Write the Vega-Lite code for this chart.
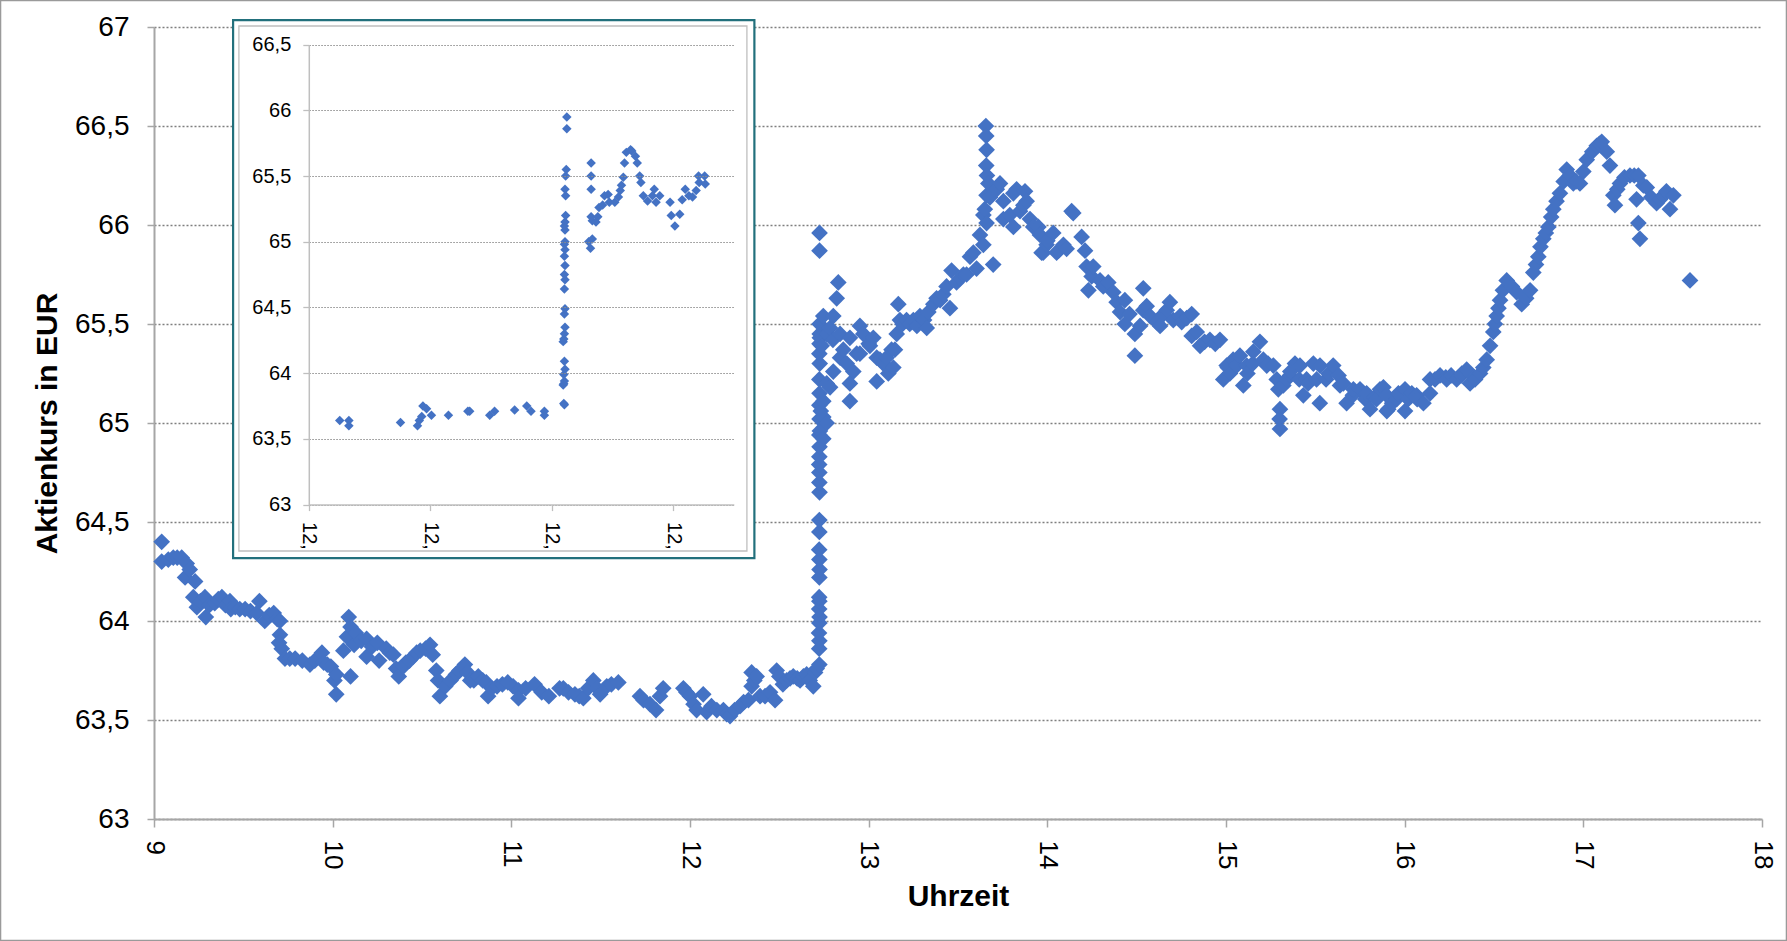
{
  "$schema": "https://vega.github.io/schema/vega-lite/v6.json",
  "width": 1608,
  "height": 792,
  "autosize": {"type": "none"},
  "padding": {"left": 154, "top": 27, "right": 25, "bottom": 122},
  "background": "white",
  "config": {"view": {"stroke": null}, "font": "Liberation Sans"},
  "datasets": {
    "main": [
      {"t":9.043,"p":64.40},{"t":9.043,"p":64.30},{"t":9.08,"p":64.31},{"t":9.108,"p":64.32},{"t":9.13,"p":64.32},{"t":9.155,"p":64.32},{"t":9.174,"p":64.22},{"t":9.183,"p":64.29},{"t":9.2,"p":64.26},{"t":9.22,"p":64.12},{"t":9.23,"p":64.20},{"t":9.24,"p":64.07},{"t":9.26,"p":64.10},{"t":9.285,"p":64.12},{"t":9.29,"p":64.02},{"t":9.31,"p":64.08},{"t":9.34,"p":64.09},{"t":9.36,"p":64.11},{"t":9.38,"p":64.12},{"t":9.40,"p":64.08},{"t":9.425,"p":64.10},{"t":9.43,"p":64.06},{"t":9.455,"p":64.07},{"t":9.48,"p":64.06},{"t":9.51,"p":64.06},{"t":9.54,"p":64.05},{"t":9.575,"p":64.04},{"t":9.59,"p":64.10},{"t":9.62,"p":64.00},{"t":9.645,"p":64.03},{"t":9.67,"p":64.04},{"t":9.69,"p":64.01},{"t":9.705,"p":64.00},{"t":9.705,"p":63.93},{"t":9.70,"p":63.89},{"t":9.715,"p":63.86},{"t":9.733,"p":63.81},{"t":9.76,"p":63.81},{"t":9.79,"p":63.81},{"t":9.83,"p":63.80},{"t":9.873,"p":63.78},{"t":9.90,"p":63.80},{"t":9.94,"p":63.84},{"t":9.95,"p":63.79},{"t":9.97,"p":63.78},{"t":9.99,"p":63.77},{"t":10.01,"p":63.70},{"t":10.02,"p":63.73},{"t":10.02,"p":63.63},{"t":10.06,"p":63.85},{"t":10.08,"p":63.92},{"t":10.09,"p":64.02},{"t":10.1,"p":63.97},{"t":10.1,"p":63.72},{"t":10.12,"p":63.88},{"t":10.13,"p":63.94},{"t":10.16,"p":63.90},{"t":10.19,"p":63.91},{"t":10.19,"p":63.82},{"t":10.22,"p":63.87},{"t":10.25,"p":63.89},{"t":10.26,"p":63.80},{"t":10.30,"p":63.86},{"t":10.32,"p":63.84},{"t":10.34,"p":63.83},{"t":10.355,"p":63.76},{"t":10.37,"p":63.72},{"t":10.395,"p":63.77},{"t":10.41,"p":63.79},{"t":10.43,"p":63.80},{"t":10.45,"p":63.82},{"t":10.47,"p":63.84},{"t":10.49,"p":63.85},{"t":10.52,"p":63.86},{"t":10.545,"p":63.88},{"t":10.56,"p":63.83},{"t":10.58,"p":63.75},{"t":10.59,"p":63.70},{"t":10.6,"p":63.62},{"t":10.63,"p":63.67},{"t":10.66,"p":63.70},{"t":10.69,"p":63.73},{"t":10.71,"p":63.75},{"t":10.74,"p":63.78},{"t":10.755,"p":63.74},{"t":10.77,"p":63.70},{"t":10.79,"p":63.70},{"t":10.815,"p":63.72},{"t":10.84,"p":63.70},{"t":10.86,"p":63.69},{"t":10.87,"p":63.62},{"t":10.89,"p":63.66},{"t":10.92,"p":63.67},{"t":10.95,"p":63.68},{"t":10.98,"p":63.69},{"t":11.01,"p":63.67},{"t":11.04,"p":63.65},{"t":11.04,"p":63.61},{"t":11.08,"p":63.66},{"t":11.13,"p":63.68},{"t":11.17,"p":63.64},{"t":11.21,"p":63.62},{"t":11.27,"p":63.66},{"t":11.291,"p":63.66},{"t":11.32,"p":63.64},{"t":11.356,"p":63.63},{"t":11.38,"p":63.62},{"t":11.403,"p":63.61},{"t":11.43,"p":63.66},{"t":11.459,"p":63.70},{"t":11.48,"p":63.66},{"t":11.497,"p":63.63},{"t":11.534,"p":63.67},{"t":11.56,"p":63.68},{"t":11.599,"p":63.69},{"t":11.72,"p":63.62},{"t":11.74,"p":63.60},{"t":11.776,"p":63.58},{"t":11.81,"p":63.55},{"t":11.832,"p":63.62},{"t":11.85,"p":63.66},{"t":11.963,"p":63.66},{"t":11.98,"p":63.64},{"t":12.0,"p":63.62},{"t":12.02,"p":63.58},{"t":12.037,"p":63.55},{"t":12.074,"p":63.63},{"t":12.093,"p":63.54},{"t":12.12,"p":63.57},{"t":12.15,"p":63.55},{"t":12.187,"p":63.55},{"t":12.205,"p":63.53},{"t":12.224,"p":63.52},{"t":12.25,"p":63.55},{"t":12.28,"p":63.57},{"t":12.30,"p":63.59},{"t":12.327,"p":63.60},{"t":12.345,"p":63.67},{"t":12.345,"p":63.74},{"t":12.36,"p":63.70},{"t":12.373,"p":63.72},{"t":12.392,"p":63.62},{"t":12.42,"p":63.62},{"t":12.448,"p":63.64},{"t":12.476,"p":63.60},{"t":12.485,"p":63.75},{"t":12.50,"p":63.72},{"t":12.52,"p":63.68},{"t":12.541,"p":63.70},{"t":12.56,"p":63.71},{"t":12.578,"p":63.72},{"t":12.60,"p":63.71},{"t":12.616,"p":63.70},{"t":12.635,"p":63.72},{"t":12.653,"p":63.73},{"t":12.67,"p":63.70},{"t":12.69,"p":63.67},{"t":12.70,"p":63.74},{"t":12.709,"p":63.76},{"t":12.724,"p":63.78},
      {"t":12.723,"p":63.86},{"t":12.724,"p":63.90},{"t":12.722,"p":63.94},{"t":12.724,"p":63.99},{"t":12.725,"p":64.02},{"t":12.723,"p":64.06},{"t":12.724,"p":64.10},{"t":12.723,"p":64.12},{"t":12.724,"p":64.22},{"t":12.725,"p":64.26},{"t":12.724,"p":64.31},{"t":12.723,"p":64.36},{"t":12.724,"p":64.45},{"t":12.724,"p":64.51},{"t":12.725,"p":64.65},{"t":12.724,"p":64.70},{"t":12.724,"p":64.75},{"t":12.723,"p":64.79},{"t":12.724,"p":64.83},{"t":12.725,"p":64.88},{"t":12.724,"p":64.94},{"t":12.725,"p":65.02},{"t":12.724,"p":65.09},{"t":12.725,"p":65.15},{"t":12.724,"p":65.22},{"t":12.726,"p":65.30},{"t":12.724,"p":65.35},{"t":12.725,"p":65.40},{"t":12.726,"p":65.45},{"t":12.725,"p":65.50},{"t":12.725,"p":65.87},{"t":12.725,"p":65.96},
      {"t":12.727,"p":65.43},{"t":12.727,"p":64.96},{"t":12.732,"p":65.06},{"t":12.737,"p":65.39},{"t":12.746,"p":65.54},{"t":12.746,"p":65.11},{"t":12.746,"p":65.03},{"t":12.746,"p":64.92},{"t":12.765,"p":65.45},{"t":12.765,"p":65.20},{"t":12.765,"p":65.00},{"t":12.784,"p":65.48},{"t":12.784,"p":65.18},{"t":12.80,"p":65.42},{"t":12.802,"p":65.54},{"t":12.802,"p":65.26},{"t":12.821,"p":65.63},{"t":12.83,"p":65.71},{"t":12.84,"p":65.45},{"t":12.84,"p":65.33},{"t":12.858,"p":65.37},{"t":12.877,"p":65.30},{"t":12.895,"p":65.43},{"t":12.895,"p":65.20},{"t":12.895,"p":65.11},{"t":12.914,"p":65.26},{"t":12.933,"p":65.35},{"t":12.951,"p":65.49},{"t":12.951,"p":65.35},{"t":12.97,"p":65.45},{"t":13.0,"p":65.40},{"t":13.007,"p":65.39},{"t":13.026,"p":65.43},{"t":13.045,"p":65.33},{"t":13.045,"p":65.21},{"t":13.063,"p":65.32},{"t":13.082,"p":65.30},{"t":13.1,"p":65.33},{"t":13.11,"p":65.25},{"t":13.128,"p":65.37},{"t":13.138,"p":65.28},{"t":13.147,"p":65.37},{"t":13.157,"p":65.45},{"t":13.166,"p":65.60},{"t":13.175,"p":65.52},{"t":13.19,"p":65.50},{"t":13.212,"p":65.52},{"t":13.23,"p":65.50},{"t":13.25,"p":65.52},{"t":13.27,"p":65.49},{"t":13.287,"p":65.54},{"t":13.31,"p":65.52},{"t":13.325,"p":65.48},{"t":13.334,"p":65.56},{"t":13.362,"p":65.60},{"t":13.38,"p":65.63},{"t":13.40,"p":65.62},{"t":13.418,"p":65.65},{"t":13.436,"p":65.69},{"t":13.455,"p":65.58},{"t":13.464,"p":65.77},{"t":13.492,"p":65.71},{"t":13.511,"p":65.73},{"t":13.53,"p":65.75},{"t":13.548,"p":65.75},{"t":13.567,"p":65.84},{"t":13.586,"p":65.86},{"t":13.604,"p":65.78},{"t":13.623,"p":65.95},{"t":13.642,"p":65.90},{"t":13.642,"p":66.05},{"t":13.65,"p":66.08},{"t":13.66,"p":66.01},{"t":13.656,"p":66.50},{"t":13.658,"p":66.45},{"t":13.66,"p":66.38},{"t":13.658,"p":66.30},{"t":13.662,"p":66.25},{"t":13.66,"p":66.15},{"t":13.67,"p":66.21},{"t":13.679,"p":66.14},{"t":13.697,"p":65.80},{"t":13.717,"p":66.18},{"t":13.735,"p":66.21},{"t":13.754,"p":66.12},{"t":13.754,"p":66.03},{"t":13.79,"p":66.05},{"t":13.81,"p":66.16},{"t":13.81,"p":65.99},{"t":13.828,"p":66.18},{"t":13.847,"p":66.07},{"t":13.866,"p":66.10},{"t":13.875,"p":66.17},{"t":13.884,"p":66.12},{"t":13.903,"p":66.03},{"t":13.921,"p":65.99},{"t":13.95,"p":65.99},{"t":13.959,"p":65.95},{"t":13.968,"p":65.86},{"t":13.977,"p":65.86},{"t":13.996,"p":65.90},{"t":14.0,"p":65.92},{"t":14.033,"p":65.96},{"t":14.052,"p":65.86},{"t":14.062,"p":65.87},{"t":14.09,"p":65.90},{"t":14.108,"p":65.88},{"t":14.136,"p":66.07},{"t":14.145,"p":66.06},{"t":14.192,"p":65.94},{"t":14.211,"p":65.87},{"t":14.22,"p":65.79},{"t":14.23,"p":65.67},{"t":14.248,"p":65.74},{"t":14.257,"p":65.79},{"t":14.295,"p":65.72},{"t":14.313,"p":65.69},{"t":14.341,"p":65.71},{"t":14.369,"p":65.66},{"t":14.388,"p":65.61},{"t":14.407,"p":65.56},{"t":14.434,"p":65.62},{"t":14.434,"p":65.50},{"t":14.46,"p":65.55},{"t":14.49,"p":65.45},{"t":14.49,"p":65.34},{"t":14.519,"p":65.49},{"t":14.537,"p":65.68},{"t":14.537,"p":65.57},{"t":14.556,"p":65.59},{"t":14.575,"p":65.54},{"t":14.612,"p":65.51},{"t":14.631,"p":65.49},{"t":14.65,"p":65.55},{"t":14.668,"p":65.57},{"t":14.686,"p":65.61},{"t":14.705,"p":65.52},{"t":14.743,"p":65.54},{"t":14.752,"p":65.51},{"t":14.78,"p":65.53},{"t":14.808,"p":65.55},{"t":14.808,"p":65.44},{"t":14.836,"p":65.46},{"t":14.855,"p":65.39},{"t":14.88,"p":65.41},{"t":14.91,"p":65.42},{"t":14.94,"p":65.40},{"t":14.966,"p":65.42},{"t":14.985,"p":65.22},{"t":15.004,"p":65.29},{"t":15.01,"p":65.28},{"t":15.022,"p":65.25},{"t":15.04,"p":65.32},{"t":15.06,"p":65.29},{"t":15.078,"p":65.34},{"t":15.097,"p":65.19},{"t":15.116,"p":65.29},{"t":15.12,"p":65.25},{"t":15.15,"p":65.30},{"t":15.153,"p":65.36},{"t":15.19,"p":65.41},{"t":15.209,"p":65.32},{"t":15.228,"p":65.29},{"t":15.235,"p":65.30},{"t":15.265,"p":65.29},{"t":15.284,"p":65.22},{"t":15.293,"p":65.17},{"t":15.302,"p":65.07},{"t":15.302,"p":64.97},{"t":15.30,"p":65.02},{"t":15.321,"p":65.19},{"t":15.34,"p":65.22},{"t":15.358,"p":65.24},{"t":15.36,"p":65.26},{"t":15.386,"p":65.30},{"t":15.41,"p":65.22},{"t":15.414,"p":65.29},{"t":15.433,"p":65.14},{"t":15.451,"p":65.22},{"t":15.46,"p":65.20},{"t":15.489,"p":65.30},{"t":15.507,"p":65.22},{"t":15.525,"p":65.10},{"t":15.526,"p":65.29},{"t":15.56,"p":65.22},{"t":15.573,"p":65.25},{"t":15.6,"p":65.29},{"t":15.63,"p":65.24},{"t":15.638,"p":65.19},{"t":15.657,"p":65.20},{"t":15.675,"p":65.10},{"t":15.71,"p":65.14},{"t":15.713,"p":65.17},{"t":15.75,"p":65.17},{"t":15.78,"p":65.12},{"t":15.787,"p":65.15},{"t":15.806,"p":65.07},{"t":15.83,"p":65.13},{"t":15.843,"p":65.12},{"t":15.862,"p":65.17},{"t":15.881,"p":65.18},{"t":15.899,"p":65.14},{"t":15.9,"p":65.06},{"t":15.908,"p":65.07},{"t":15.93,"p":65.10},{"t":15.955,"p":65.12},{"t":15.965,"p":65.15},{"t":16.002,"p":65.06},{"t":16.002,"p":65.17},{"t":16.02,"p":65.12},{"t":16.04,"p":65.15},{"t":16.067,"p":65.14},{"t":16.07,"p":65.12},{"t":16.105,"p":65.10},{"t":16.142,"p":65.15},{"t":16.142,"p":65.22},{"t":16.17,"p":65.22},{"t":16.198,"p":65.24},{"t":16.23,"p":65.23},{"t":16.235,"p":65.22},{"t":16.26,"p":65.24},{"t":16.291,"p":65.22},{"t":16.319,"p":65.24},{"t":16.32,"p":65.25},{"t":16.347,"p":65.27},{"t":16.366,"p":65.20},{"t":16.39,"p":65.23},{"t":16.394,"p":65.22},{"t":16.422,"p":65.25},{"t":16.44,"p":65.28},{"t":16.459,"p":65.32},{"t":16.478,"p":65.39},{"t":16.496,"p":65.46},{"t":16.505,"p":65.50},{"t":16.515,"p":65.54},{"t":16.525,"p":65.58},{"t":16.534,"p":65.62},{"t":16.55,"p":65.67},{"t":16.571,"p":65.72},{"t":16.60,"p":65.69},{"t":16.627,"p":65.66},{"t":16.655,"p":65.60},{"t":16.68,"p":65.63},{"t":16.702,"p":65.67},{"t":16.72,"p":65.76},{"t":16.735,"p":65.80},{"t":16.748,"p":65.84},{"t":16.76,"p":65.89},{"t":16.776,"p":65.93},{"t":16.79,"p":65.96},{"t":16.804,"p":65.99},{"t":16.82,"p":66.04},{"t":16.832,"p":66.08},{"t":16.85,"p":66.12},{"t":16.869,"p":66.16},{"t":16.89,"p":66.22},{"t":16.907,"p":66.28},{"t":16.925,"p":66.25},{"t":16.944,"p":66.21},{"t":16.96,"p":66.22},{"t":16.981,"p":66.21},{"t":17.0,"p":66.27},{"t":17.019,"p":66.33},{"t":17.05,"p":66.37},{"t":17.075,"p":66.40},{"t":17.09,"p":66.41},{"t":17.103,"p":66.42},{"t":17.131,"p":66.37},{"t":17.149,"p":66.30},{"t":17.168,"p":66.15},{"t":17.177,"p":66.10},{"t":17.19,"p":66.18},{"t":17.205,"p":66.21},{"t":17.23,"p":66.24},{"t":17.261,"p":66.25},{"t":17.285,"p":66.25},{"t":17.298,"p":66.13},{"t":17.308,"p":66.25},{"t":17.308,"p":66.01},{"t":17.317,"p":65.93},{"t":17.336,"p":66.20},{"t":17.355,"p":66.19},{"t":17.38,"p":66.14},{"t":17.41,"p":66.11},{"t":17.43,"p":66.13},{"t":17.448,"p":66.15},{"t":17.465,"p":66.17},{"t":17.485,"p":66.08},{"t":17.504,"p":66.15},{"t":17.597,"p":65.72}
    ],
    "inset": [
      {"t":12.6751,"p":63.64},{"t":12.6766,"p":63.64},{"t":12.6766,"p":63.60},{"t":12.6851,"p":63.625},{"t":12.6879,"p":63.60},{"t":12.6882,"p":63.64},{"t":12.6886,"p":63.67},{"t":12.6888,"p":63.75},{"t":12.6894,"p":63.73},{"t":12.6902,"p":63.68},{"t":12.693,"p":63.68},{"t":12.6962,"p":63.71},{"t":12.6965,"p":63.71},{"t":12.6998,"p":63.68},{"t":12.7006,"p":63.71},{"t":12.7039,"p":63.72},{"t":12.7059,"p":63.75},{"t":12.7066,"p":63.71},{"t":12.7088,"p":63.71},{"t":12.7088,"p":63.68},
      {"t":12.712,"p":63.77},{"t":12.7121,"p":63.76},{"t":12.7119,"p":63.91},{"t":12.712,"p":63.92},{"t":12.7121,"p":63.94},{"t":12.712,"p":63.99},{"t":12.7122,"p":64.03},{"t":12.7121,"p":64.09},{"t":12.7119,"p":64.24},{"t":12.712,"p":64.26},{"t":12.7121,"p":64.30},{"t":12.7122,"p":64.35},{"t":12.7121,"p":64.45},{"t":12.7122,"p":64.49},{"t":12.7121,"p":64.64},{"t":12.7122,"p":64.71},{"t":12.7121,"p":64.75},{"t":12.7122,"p":64.82},{"t":12.7121,"p":64.89},{"t":12.7122,"p":64.94},{"t":12.7121,"p":64.98},{"t":12.7122,"p":65.00},{"t":12.7122,"p":65.09},{"t":12.7121,"p":65.12},{"t":12.7122,"p":65.15},{"t":12.7123,"p":65.20},{"t":12.7123,"p":65.35},{"t":12.7122,"p":65.40},{"t":12.7123,"p":65.50},{"t":12.7124,"p":65.55},{"t":12.7125,"p":65.86},{"t":12.7125,"p":65.95},
      {"t":12.7161,"p":65.00},{"t":12.7164,"p":64.95},{"t":12.7167,"p":65.02},{"t":12.7165,"p":65.19},{"t":12.7167,"p":65.16},{"t":12.7165,"p":65.40},{"t":12.7165,"p":65.50},{"t":12.7165,"p":65.60},{"t":12.7173,"p":65.15},{"t":12.7176,"p":65.19},{"t":12.7178,"p":65.26},{"t":12.7184,"p":65.28},{"t":12.7187,"p":65.35},{"t":12.7193,"p":65.36},{"t":12.7195,"p":65.30},{"t":12.7204,"p":65.30},{"t":12.721,"p":65.34},{"t":12.7213,"p":65.39},{"t":12.7215,"p":65.43},{"t":12.7218,"p":65.49},{"t":12.722,"p":65.60},{"t":12.7223,"p":65.68},{"t":12.723,"p":65.70},{"t":12.7232,"p":65.69},{"t":12.7238,"p":65.65},{"t":12.7241,"p":65.60},{"t":12.7245,"p":65.50},{"t":12.7247,"p":65.45},{"t":12.7251,"p":65.35},{"t":12.7258,"p":65.31},{"t":12.7266,"p":65.35},{"t":12.7269,"p":65.40},{"t":12.7272,"p":65.30},{"t":12.7278,"p":65.35},{"t":12.7295,"p":65.30},{"t":12.7297,"p":65.20},{"t":12.7303,"p":65.12},{"t":12.7311,"p":65.21},{"t":12.7315,"p":65.32},{"t":12.732,"p":65.40},{"t":12.7326,"p":65.35},{"t":12.7332,"p":65.34},{"t":12.7338,"p":65.39},{"t":12.7343,"p":65.45},{"t":12.7342,"p":65.50},{"t":12.7352,"p":65.50},{"t":12.7353,"p":65.44}
    ]
  },
  "layer": [
    {
      "layer": [
        {
          "data": {"values": [{}]},
          "mark": {"type": "rect", "fill": null, "stroke": "#9A9A9A", "strokeWidth": 1.5},
          "encoding": {
            "x": {"datum": 8.141, "type": "quantitative"},
            "x2": {"datum": 18.137},
            "y": {"datum": 67.134, "type": "quantitative"},
            "y2": {"datum": 62.386}
          }
        },
        {
          "data": {"name": "main"},
          "mark": {"type": "point", "shape": "diamond", "filled": true, "size": 280, "color": "#4472C4", "opacity": 1, "strokeWidth": 0},
          "encoding": {
            "x": {
              "field": "t", "type": "quantitative",
              "scale": {"domain": [9, 18], "nice": false, "zero": false},
              "axis": {
                "title": "Uhrzeit", "values": [9, 10, 11, 12, 13, 14, 15, 16, 17, 18],
                "labelExpr": "format(datum.value, 'd')",
                "labelAngle": 90, "labelFontSize": 26, "labelColor": "#000000", "labelPadding": 13,
                "labelFlush": false, "labelOverlap": false,
                "tickSize": 8, "tickColor": "#A6A6A6", "tickWidth": 1.5,
                "domainColor": "#A6A6A6", "domainWidth": 2, "grid": false,
                "titleFontSize": 30, "titleFontWeight": "bold", "titleColor": "#000000", "titlePadding": 13,
                "labelFont": "Liberation Sans", "titleFont": "Liberation Sans"
              }
            },
            "y": {
              "field": "p", "type": "quantitative",
              "scale": {"domain": [63, 67], "nice": false, "zero": false},
              "axis": {
                "title": "Aktienkurs in EUR", "values": [63, 63.5, 64, 64.5, 65, 65.5, 66, 66.5, 67],
                "labelExpr": "replace(format(datum.value, '.1~f'), '.', ',')",
                "labelFontSize": 28, "labelColor": "#000000", "labelPadding": 18, "labelFlush": false, "labelOverlap": false,
                "tickSize": 7, "tickColor": "#A6A6A6", "tickWidth": 1.5,
                "domainColor": "#A6A6A6", "domainWidth": 2,
                "grid": true, "gridColor": "#7F7F7F", "gridDash": [2, 2], "gridWidth": 1.3,
                "titleFontSize": 30, "titleFontWeight": "bold", "titleColor": "#000000", "titlePadding": 12,
                "labelFont": "Liberation Sans", "titleFont": "Liberation Sans"
              }
            }
          }
        },
        {
          "data": {"values": [{}]},
          "mark": {"type": "rect", "fill": "white", "stroke": "#22707C", "strokeWidth": 2.2},
          "encoding": {
            "x": {"datum": 9.4427, "type": "quantitative"},
            "x2": {"datum": 12.3604},
            "y": {"datum": 67.035, "type": "quantitative"},
            "y2": {"datum": 64.318}
          }
        },
        {
          "data": {"values": [{}]},
          "mark": {"type": "rect", "fill": null, "stroke": "#BFBFBF", "strokeWidth": 1.3},
          "encoding": {
            "x": {"datum": 9.4752, "type": "quantitative"},
            "x2": {"datum": 12.3185},
            "y": {"datum": 67.005, "type": "quantitative"},
            "y2": {"datum": 64.3535}
          }
        }
      ]
    },
    {
      "data": {"name": "inset"},
      "mark": {"type": "point", "shape": "diamond", "filled": true, "size": 90, "color": "#4472C4", "opacity": 1, "strokeWidth": 0},
      "encoding": {
        "x": {
          "field": "t", "type": "quantitative",
          "scale": {"domain": [12.67, 12.74], "range": [154.8, 579.8], "nice": false, "zero": false},
          "axis": {
            "orient": "bottom", "offset": -314.4, "title": null,
            "values": [12.67, 12.69, 12.71, 12.73], "labelExpr": "'12,'",
            "labelAngle": 90, "labelFontSize": 20, "labelColor": "#000000", "labelPadding": 11,
            "labelFlush": false, "labelOverlap": false,
            "tickSize": 6, "tickColor": "#BFBFBF", "tickWidth": 1.3,
            "domainColor": "#BFBFBF", "domainWidth": 1.5, "grid": false, "zindex": 1,
            "labelFont": "Liberation Sans"
          }
        },
        "y": {
          "field": "p", "type": "quantitative",
          "scale": {"domain": [63, 66.5], "range": [477.6, 17.6], "nice": false, "zero": false},
          "axis": {
            "orient": "left", "offset": -154.8, "title": null,
            "values": [63, 63.5, 64, 64.5, 65, 65.5, 66, 66.5],
            "labelExpr": "replace(format(datum.value, '.1~f'), '.', ',')",
            "labelFontSize": 20, "labelColor": "#000000", "labelPadding": 12, "labelFlush": false, "labelOverlap": false,
            "tickSize": 6, "tickColor": "#BFBFBF", "tickWidth": 1.3,
            "domainColor": "#BFBFBF", "domainWidth": 1.5,
            "grid": true, "gridColor": "#8C8C8C", "gridDash": [1.5, 1.5], "gridWidth": 1,
            "zindex": 1, "labelFont": "Liberation Sans"
          }
        }
      }
    }
  ],
  "resolve": {"scale": {"x": "independent", "y": "independent"}, "axis": {"x": "independent", "y": "independent"}}
}
